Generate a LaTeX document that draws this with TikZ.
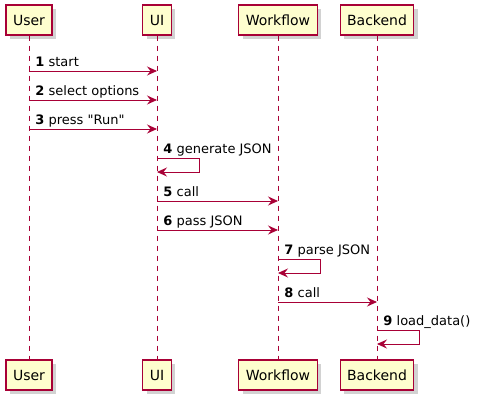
\documentclass[tikz,border=0pt]{standalone}
\usepackage{fontspec}
\setmainfont{DejaVu Sans}[Ligatures=TeXOff]
\usetikzlibrary{arrows.meta,shadows}
\definecolor{umlred}{HTML}{A80036}
\definecolor{umlfill}{HTML}{FEFECE}
\begin{document}
\begin{tikzpicture}[
    x=1pt, y=-1pt,
    actor/.style={rectangle, draw=umlred, fill=umlfill, line width=1.1pt, minimum height=30pt, inner xsep=7pt,
        font=\fontsize{14}{16}\selectfont, drop shadow={shadow xshift=4pt, shadow yshift=-4pt, fill=black!35}},
    life/.style={draw=umlred, dash pattern=on 5pt off 5pt, line width=0.8pt},
    msg/.style={-{Stealth[length=10pt, width=9pt, inset=3.5pt]}, draw=umlred, line width=0.9pt},
    lbl/.style={pos=0, anchor=base west, inner sep=0pt, xshift=6pt, yshift=4.5pt, font=\fontsize{13}{15}\selectfont}
]
    \useasboundingbox (0,0) rectangle (478,403);
    % participants
    \node[actor] (user) at (29,20) {User};
    \node[actor] (ui) at (157,20) {UI};
    \node[actor] (wf) at (278,20) {Workflow};
    \node[actor] (be) at (377,20) {Backend};
    \node[actor] (user2) at (29,375) {User};
    \node[actor] (ui2) at (157,375) {UI};
    \node[actor] (wf2) at (278,375) {Workflow};
    \node[actor] (be2) at (377,375) {Backend};
    % lifelines
    \draw[life] (user) -- (user2);
    \draw[life] (ui) -- (ui2);
    \draw[life] (wf) -- (wf2);
    \draw[life] (be) -- (be2);
    % messages
    \draw[msg] (user |- 0,71) -- node[lbl] {\textbf{1} start} (ui |- 0,71);
    \draw[msg] (user |- 0,100) -- node[lbl] {\textbf{2} select options} (ui |- 0,100);
    \draw[msg] (user |- 0,129) -- node[lbl] {\textbf{3} press "Run"} (ui |- 0,129);
    \draw[msg] (ui |- 0,158) -- node[lbl] {\textbf{4} generate JSON} ++(42,0) |- (ui |- 0,172);
    \draw[msg] (ui |- 0,201) -- node[lbl] {\textbf{5} call} (wf |- 0,201);
    \draw[msg] (ui |- 0,230) -- node[lbl] {\textbf{6} pass JSON} (wf |- 0,230);
    \draw[msg] (wf |- 0,259) -- node[lbl] {\textbf{7} parse JSON} ++(42,0) |- (wf |- 0,273);
    \draw[msg] (wf |- 0,302) -- node[lbl] {\textbf{8} call} (be |- 0,302);
    \draw[msg] (be |- 0,330) -- node[lbl] {\textbf{9} load\_data()} ++(42,0) |- (be |- 0,344);
\end{tikzpicture}
\end{document}
